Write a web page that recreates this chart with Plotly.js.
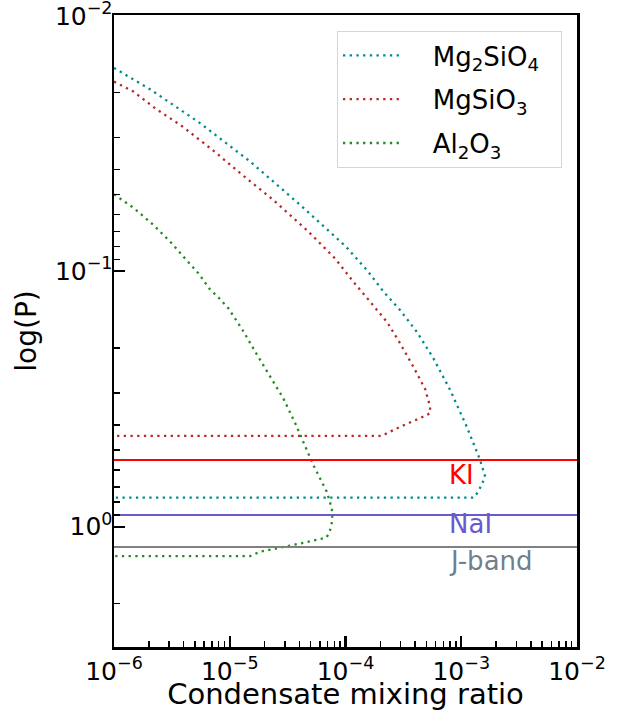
<!DOCTYPE html>
<html>
<head>
<meta charset="utf-8">
<script src="https://cdn.plot.ly/plotly-3.0.1.min.js"></script>
<style>html,body{margin:0;padding:0;background:#fff;}#chart{width:625px;height:711px;}</style>
</head>
<body>
<div id="chart"></div>
<script>
// Mg2SiO4 condensation curve
const mg2sio4X = [1.0e-6, 2.05e-6, 5.53e-6, 1.50e-5, 4.06e-5, 9.93e-5, 1.53e-4, 2.13e-4, 2.96e-4, 4.13e-4, 5.75e-4, 8.02e-4, 1.117e-3, 1.456e-3, 1.61e-3, 1.40e-3, 1.27e-3, 1.0e-6];
const mg2sio4P = [0.0160, 0.0194, 0.0263, 0.0372, 0.0550, 0.0796, 0.0989, 0.1202, 0.1419, 0.1726, 0.2193, 0.2917, 0.4064, 0.548, 0.638, 0.731, 0.770, 0.770];
// MgSiO3 condensation curve
const mgsio3X = [1.0e-6, 1.47e-6, 2.26e-6, 3.85e-6, 7.21e-6, 1.31e-5, 2.38e-5, 4.63e-5, 8.13e-5, 1.17e-4, 1.63e-4, 2.28e-4, 2.96e-4, 3.86e-4, 4.88e-4, 5.38e-4, 5.38e-4, 4.71e-4, 2.96e-4, 2.06e-4, 1.0e-6];
const mgsio3P = [0.0181, 0.0198, 0.0230, 0.0270, 0.0337, 0.0423, 0.0526, 0.0690, 0.0891, 0.110, 0.1315, 0.1578, 0.1914, 0.2366, 0.2897, 0.3388, 0.3597, 0.3707, 0.4064, 0.4406, 0.4406];
// Al2O3 condensation curve
const al2o3X = [1.0e-6, 1.47e-6, 2.19e-6, 3.16e-6, 4.11e-6, 5.36e-6, 6.76e-6, 8.24e-6, 9.72e-6, 1.29e-5, 1.69e-5, 2.23e-5, 2.90e-5, 3.66e-5, 4.48e-5, 5.28e-5, 6.03e-5, 6.89e-5, 7.62e-5, 7.71e-5, 7.36e-5, 6.89e-5, 6.03e-5, 4.78e-5, 3.55e-5, 2.55e-5, 1.83e-5, 1.50e-5, 1.0e-6];
const al2o3P = [0.0500, 0.0564, 0.0659, 0.0778, 0.0891, 0.1019, 0.1178, 0.1285, 0.1396, 0.1698, 0.2094, 0.2564, 0.3141, 0.3917, 0.4864, 0.5741, 0.6471, 0.7295, 0.8472, 0.9419, 1.030, 1.099, 1.119, 1.146, 1.180, 1.216, 1.253, 1.303, 1.303];

// Horizontal reference pressures
const refNames = ['KI', 'NaI', 'J-band'];
const refP = [0.548, 0.90, 1.20];
const refLabelP = [0.630, 0.975, 1.36];
const refLabelX = 7.6e-4;
const xSpan = [1e-6, 1e-2];

// Tick labels
const xTickVals = [1e-6, 1e-5, 1e-4, 1e-3, 1e-2];
const xTickText = ['10<sup>−6</sup>', '10<sup>−5</sup>', '10<sup>−4</sup>', '10<sup>−3</sup>', '10<sup>−2</sup>'];
const yTickVals = [1e-2, 1e-1, 1];
const yTickText = ['10<sup>−2</sup>', '10<sup>−1</sup>', '10<sup>0</sup>'];

const FONT = 'DejaVu Sans, sans-serif';
const DOT = '2.3px,4.4px';
const lineColors = ['red', '#6a5acd', 'gray'];
const textColors = ['red', '#6a5acd', '#708090'];
const SP = '\u00a0\u00a0\u00a0';

const traces = [
  {x: mg2sio4X, y: mg2sio4P, name: SP + 'Mg<sub>2</sub>SiO<sub>4</sub>\u00a0\u00a0', legendgroup: 'a', mode: 'lines', line: {color: '#008b8b', width: 2.3, dash: DOT}},
  {x: mgsio3X, y: mgsio3P, name: SP + 'MgSiO<sub>3</sub>', legendgroup: 'b', mode: 'lines', line: {color: '#b82a2a', width: 2.3, dash: DOT}},
  {x: al2o3X, y: al2o3P, name: SP + 'Al<sub>2</sub>O<sub>3</sub>', legendgroup: 'c', mode: 'lines', line: {color: '#228b22', width: 2.3, dash: DOT}}
];
refP.forEach((p, i) => {
  traces.push({x: xSpan, y: [p, p], mode: 'lines', showlegend: false, hoverinfo: 'skip', line: {color: lineColors[i], width: 2}});
});

const annotations = refNames.map((n, i) => ({
  x: Math.log10(refLabelX), y: Math.log10(refLabelP[i]), xref: 'x', yref: 'y',
  text: n, showarrow: false, xanchor: 'left', yanchor: 'middle',
  font: {family: FONT, size: 26, color: textColors[i]}
}));

const layout = {
  width: 625, height: 711,
  margin: {l: 114, r: 48, t: 15, b: 64},
  paper_bgcolor: 'white', plot_bgcolor: 'white',
  font: {family: FONT, color: 'black'},
  showlegend: true,
  legend: {
    x: 0.4816, y: 0.9747, xanchor: 'left', yanchor: 'top',
    bgcolor: 'white', bordercolor: '#d6d6d6', borderwidth: 1,
    font: {family: FONT, size: 26, color: 'black'},
    tracegroupgap: 7, itemwidth: 60, traceorder: 'grouped'
  },
  xaxis: {
    type: 'log', range: [-6, -2], autorange: false,
    showline: true, linecolor: 'black', linewidth: 2.5, mirror: true,
    showgrid: false, zeroline: false,
    tickmode: 'array', tickvals: xTickVals, ticktext: xTickText,
    ticks: 'inside', ticklen: 11, tickwidth: 2.3, tickcolor: 'black',
    ticklabeloverflow: 'allow',
    tickfont: {family: FONT, size: 25, color: 'black'},
    minor: {dtick: 'D1', ticks: 'inside', ticklen: 6, tickwidth: 1.5, tickcolor: 'black', showgrid: false},
    title: {text: 'Condensate mixing ratio', font: {family: FONT, size: 29, color: 'black'}, standoff: 8}
  },
  yaxis: {
    type: 'log', range: [0.4708, -2.003], autorange: false,
    showline: true, linecolor: 'black', linewidth: 2.5, mirror: true,
    showgrid: false, zeroline: false,
    tickmode: 'array', tickvals: yTickVals, ticktext: yTickText,
    ticks: 'inside', ticklen: 11, tickwidth: 2.3, tickcolor: 'black',
    ticklabeloverflow: 'allow', ticklabelstandoff: -6,
    tickfont: {family: FONT, size: 25, color: 'black'},
    minor: {dtick: 'D1', ticks: 'inside', ticklen: 6, tickwidth: 1.5, tickcolor: 'black', showgrid: false},
    title: {text: 'log(P)', font: {family: FONT, size: 28, color: 'black'}, standoff: 10}
  },
  annotations: annotations
};

Plotly.newPlot('chart', traces, layout, {displayModeBar: false, staticPlot: true});
</script>
</body>
</html>
